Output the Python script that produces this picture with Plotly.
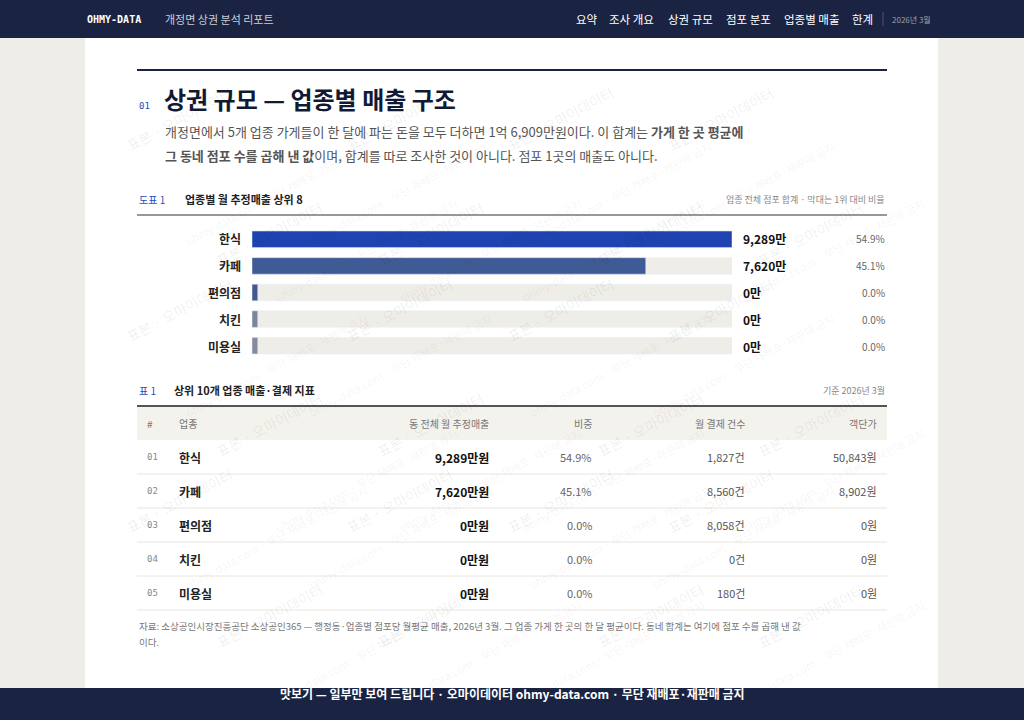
import plotly.graph_objects as go

W, H = 1024, 720
NAVY = "#1a2442"
FONT = "Noto Sans CJK KR"

# data
cats = ["한식", "카페", "편의점", "치킨", "미용실"]
sales = [9289, 7620, 0, 0, 0]          # 만원
share = [54.9, 45.1, 0.0, 0.0, 0.0]
payments = [1827, 8560, 8058, 0, 180]  # 건
per_customer = [50843, 8902, 0, 0, 0]  # 원
bar_colors = ["#1f43b0", "#3f5a94", "#44598e", "#7a869e", "#858b9c"]


def px(x):
    return x / W


def py(y):
    return 1 - y / H


fig = go.Figure()

# track bars + value bars
vmax = max(sales)
shown = [max(v, vmax * 0.012) for v in sales]
fig.add_trace(go.Bar(y=cats, x=[vmax] * len(cats), orientation="h",
                     marker=dict(color="#efede7"), width=0.62, hoverinfo="skip"))
fig.add_trace(go.Bar(y=cats, x=shown, orientation="h",
                     marker=dict(color=bar_colors), width=0.62,
                     customdata=sales, hovertemplate="%{y}: %{customdata}만<extra></extra>"))

shapes = []
ann = []


def rect(x0, y0, x1, y1, color, layer="below"):
    shapes.append(dict(type="rect", xref="paper", yref="paper", x0=px(x0), x1=px(x1),
                       y0=py(y1), y1=py(y0), fillcolor=color, line=dict(width=0), layer=layer))


def hline(x0, x1, y, color, w=1):
    shapes.append(dict(type="line", xref="paper", yref="paper", x0=px(x0), x1=px(x1),
                       y0=py(y), y1=py(y), line=dict(color=color, width=w), layer="below"))


def text(x, y, s, size=12, color="#333", anchor="left", bold=False, family=FONT):
    if bold:
        s = "<b>" + s + "</b>"
    ann.append(dict(xref="paper", yref="paper", x=px(x), y=py(y), text=s, showarrow=False,
                    xanchor=anchor, yanchor="middle", font=dict(size=size, color=color, family=family)))


# page
rect(85, 38, 938, 688, "white")
rect(0, 0, 1024, 38, NAVY, "above")
rect(0, 688, 1024, 720, NAVY, "above")

# watermarks
for row in range(6):
    for col in range(4):
        x = 120 + col * 220 + (row % 2) * 90
        y = 80 + row * 115
        ann.append(dict(xref="paper", yref="paper", x=px(x), y=py(y), showarrow=False,
                        text="표본 · 오마이데이터", textangle=-28,
                        font=dict(size=14, color="rgba(0,0,0,0.07)", family=FONT)))
        ann.append(dict(xref="paper", yref="paper", x=px(x + 60), y=py(y + 55), showarrow=False,
                        text="ohmy-data.com · 무단 재배포·재판매 금지", textangle=-28,
                        font=dict(size=11, color="rgba(0,0,0,0.06)", family=FONT)))

# header nav
text(85, 19, "OHMY-DATA", 10, "white", bold=True, family="DejaVu Sans Mono")
text(163, 19, "개정면 상권 분석 리포트", 11, "#c9cedb")
navs = [("요약", 574), ("조사 개요", 607), ("상권 규모", 666), ("점포 분포", 724), ("업종별 매출", 782), ("한계", 850)]
for s, x in navs:
    text(x, 19, s, 11.5, "white")
shapes.append(dict(type="line", xref="paper", yref="paper", x0=px(883), x1=px(883),
                   y0=py(12), y1=py(26), line=dict(color="#4a5370", width=1), layer="above"))
text(890, 19, "2026년 3월", 8, "#9aa0b0")

# title section
hline(137, 887, 70, NAVY, 2)
text(137, 106, "01", 9, "#2a4ac0", family="DejaVu Sans Mono")
text(162, 99, "상권 규모 — 업종별 매출 구조", 24, "#111a33", bold=True)
text(163, 131, "개정면에서 5개 업종 가게들이 한 달에 파는 돈을 모두 더하면 1억 6,909만원이다. 이 합계는 <b>가게 한 곳 평균에</b>", 13, "#555")
text(163, 155, "<b>그 동네 점포 수를 곱해 낸 값</b>이며, 합계를 따로 조사한 것이 아니다. 점포 1곳의 매출도 아니다.", 13, "#555")

# chart header
text(137, 199, "도표 1", 10, "#2a4ac0")
text(183, 199, "업종별 월 추정매출 상위 8", 11, "#222", bold=True)
text(887, 199, "업종 전체 점포 합계 · 막대는 1위 대비 비율", 9, "#888", anchor="right")
hline(137, 887, 215, "#333", 1)

ys = [239, 265, 292, 319, 346]
for c, v, s, y in zip(cats, sales, share, ys):
    text(243, y, c, 12, "#222", anchor="right", bold=True)
    text(741, y, f"{v:,}만", 12, "#111", bold=True)
    text(887, y, f"{s:.1f}%", 10, "#666", anchor="right")

# table
text(137, 390, "표 1", 10, "#2a4ac0")
text(172, 390, "상위 10개 업종 매출·결제 지표", 11, "#222", bold=True)
text(887, 390, "기준 2026년 3월", 9, "#888", anchor="right")
rect(137, 406, 887, 440, "#f4f2ed")
hline(137, 887, 406, "#555", 2)
heads = [("#", 145, "left"), ("업종", 177, "left"), ("동 전체 월 추정매출", 491, "right"),
         ("비중", 594, "right"), ("월 결제 건수", 747, "right"), ("객단가", 879, "right")]
for s, x, a in heads:
    text(x, 423, s, 10, "#777", anchor=a)
row_y = [457, 491, 525, 559, 593]
for i, (c, v, s, p, pc, y) in enumerate(zip(cats, sales, share, payments, per_customer, row_y)):
    hline(137, 887, y + 17, "#e8e6e0", 1)
    text(145, y, f"{i + 1:02d}", 9, "#888", family="DejaVu Sans Mono")
    text(177, y, c, 12, "#222", bold=True)
    text(491, y, f"{v:,}만원", 12, "#111", anchor="right", bold=True)
    text(594, y, f"{s:.1f}%", 11, "#666", anchor="right")
    text(747, y, f"{p:,}건", 11, "#555", anchor="right")
    text(879, y, f"{pc:,}원", 11, "#555", anchor="right")

text(137, 626, "자료: 소상공인시장진흥공단 소상공인365 — 행정동·업종별 점포당 월평균 매출, 2026년 3월. 그 업종 가게 한 곳의 한 달 평균이다. 동네 합계는 여기에 점포 수를 곱해 낸 값", 9.5, "#777")
text(137, 642, "이다.", 9.5, "#777")

ann.append(dict(xref="paper", yref="paper", x=0.5, y=py(704), showarrow=False,
                text="<b>맛보기 — 일부만 보여 드립니다 · 오마이데이터 ohmy-data.com · 무단 재배포·재판매 금지</b>",
                font=dict(size=12, color="white", family=FONT)))

fig.update_layout(
    width=W, height=H, margin=dict(l=0, r=0, t=0, b=0),
    paper_bgcolor="#eeede8", plot_bgcolor="rgba(0,0,0,0)",
    barmode="overlay", showlegend=False, bargap=0.3,
    xaxis=dict(domain=[px(252), px(732)], range=[0, vmax], visible=False, fixedrange=True),
    yaxis=dict(domain=[py(359), py(226)], autorange="reversed", visible=False, fixedrange=True),
    shapes=shapes, annotations=ann, font=dict(family=FONT),
)

fig.write_html("out.html", config={"displayModeBar": False},
               post_script="document.body.style.margin='0';document.body.style.overflow='hidden';")
